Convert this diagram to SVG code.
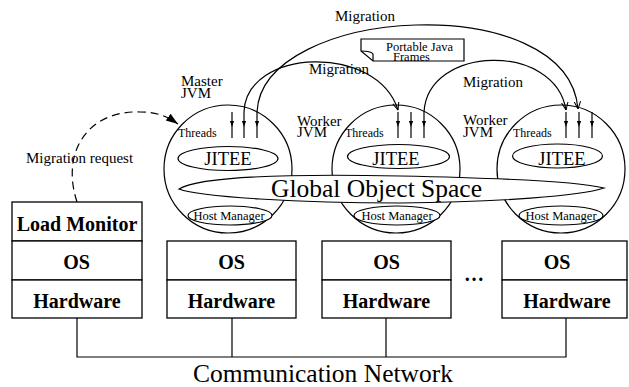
<svg xmlns="http://www.w3.org/2000/svg" width="629" height="387" viewBox="0 0 629 387">
<style>
text{font-family:"Liberation Serif","Times New Roman",serif;fill:#000}
.b{font-weight:bold;font-size:20px;text-anchor:middle}
.lbl{font-size:15px}
.sm{font-size:12px}
.hm{font-size:12.5px;text-anchor:middle}
.jt{font-size:18.5px;text-anchor:middle}
.big{font-size:25.5px}
.ln{fill:none;stroke:#000;stroke-width:1.2}
.box{fill:#fff;stroke:#000;stroke-width:1.3}
.wf{fill:#fff;stroke:#000;stroke-width:1.2}
.th{fill:none;stroke:#000;stroke-width:1.2;marker-mid:url(#tri)}
.arc{fill:none;stroke:#000;stroke-width:1.2;marker-end:url(#open)}
</style>
<defs>
<marker id="open" viewBox="0 0 10 10" refX="9.5" refY="5" markerWidth="8" markerHeight="8" markerUnits="userSpaceOnUse" orient="auto"><path d="M0,1 L9.5,5 L0,9" fill="none" stroke="#000" stroke-width="1.3"/></marker>
<marker id="tri" viewBox="0 0 10 10" refX="5" refY="5" markerWidth="6" markerHeight="6" markerUnits="userSpaceOnUse" orient="auto"><path d="M0,1.5 L10,5 L0,8.5 Z" fill="#000" stroke="none"/></marker>
<marker id="fill" viewBox="0 0 10 10" refX="10" refY="5" markerWidth="12" markerHeight="12" markerUnits="userSpaceOnUse" orient="auto"><path d="M0,1.5 L10,5 L0,8.5 Z" fill="#000" stroke="none"/></marker>
</defs>

<g id="jvm-master">
<circle cx="228" cy="169" r="64" class="ln"/>
<text class="lbl" x="181" y="86">Master</text>
<text class="lbl" x="181" y="98">JVM</text>
<text class="sm" x="178" y="137">Threads</text>
<path class="th" d="M232 112 L232 124 L232 138"/>
<path class="th" d="M244 112 L244 124 L244 138"/>
<path class="th" d="M257 112 L257 124 L257 138"/>
<ellipse cx="228" cy="158.5" rx="50" ry="12" class="ln"/>
<text class="jt" x="228" y="164.5">JITEE</text>
</g>

<g id="jvm-worker-1">
<circle cx="396" cy="169" r="64" class="ln"/>
<text class="lbl" x="297" y="126">Worker</text>
<text class="lbl" x="297" y="137">JVM</text>
<text class="sm" x="345" y="137">Threads</text>
<path class="th" d="M398 112 L398 124 L398 138"/>
<path class="th" d="M411 112 L411 124 L411 138"/>
<path class="th" d="M424 112 L424 124 L424 138"/>
<ellipse cx="398.5" cy="156.5" rx="51" ry="12" class="ln"/>
<text class="jt" x="396" y="164.5">JITEE</text>
</g>

<g id="jvm-worker-2">
<circle cx="561" cy="169" r="64" class="ln"/>
<text class="lbl" x="463" y="125">Worker</text>
<text class="lbl" x="463" y="137">JVM</text>
<text class="sm" x="513" y="137">Threads</text>
<path class="th" d="M566 112 L566 124 L566 138"/>
<path class="th" d="M579 112 L579 124 L579 138"/>
<path class="th" d="M592 112 L592 124 L592 138"/>
<ellipse cx="557.5" cy="156" rx="45" ry="12" class="ln"/>
<text class="jt" x="562" y="164.5">JITEE</text>
</g>

<g id="global-object-space">
<path class="wf" d="M179 189 C200 176 300 174 400 176 C500 178 580 182 604 188 C580 196 500 202 400 203 C300 203 200 197 179 189 Z"/>
<text class="big" x="271" y="197">Global Object Space</text>
</g>

<g id="host-managers">
<ellipse cx="230" cy="215.5" rx="42" ry="9.5" class="wf"/>
<text class="hm" x="229" y="219.5">Host Manager</text>
<ellipse cx="397" cy="215.5" rx="43" ry="9.5" class="wf"/>
<text class="hm" x="397" y="219.5">Host Manager</text>
<ellipse cx="561" cy="215.5" rx="42" ry="9.5" class="wf"/>
<text class="hm" x="561" y="219.5">Host Manager</text>
</g>

<g id="note-frames">
<path class="wf" d="M361 39 L464 39 L464 61 L373 61 L361 51 Z"/>
<path class="ln" d="M361 51 Q371 51 373 54 L373 61"/>
<text class="sm" x="386" y="51" style="font-size:12.5px">Portable Java</text>
<text class="sm" x="393" y="61" style="font-size:12.5px">Frames</text>
</g>

<g id="node-monitor">
<rect class="box" x="12" y="202" width="130" height="39"/>
<rect class="box" x="12" y="241" width="130" height="39"/>
<rect class="box" x="12" y="280" width="130" height="38"/>
<text class="b" x="77" y="231">Load Monitor</text>
<text class="b" x="76.5" y="269">OS</text>
<text class="b" x="77" y="308">Hardware</text>
</g>

<g id="node-host-1">
<rect class="box" x="167" y="241" width="129" height="39"/>
<rect class="box" x="167" y="280" width="129" height="38"/>
<text class="b" x="231.5" y="269">OS</text>
<text class="b" x="231.5" y="308">Hardware</text>
</g>

<g id="node-host-2">
<rect class="box" x="322" y="241" width="129" height="39"/>
<rect class="box" x="322" y="280" width="129" height="38"/>
<text class="b" x="386.5" y="269">OS</text>
<text class="b" x="386.5" y="308">Hardware</text>
</g>

<text class="b" x="474" y="281">…</text>

<g id="node-host-3">
<rect class="box" x="502" y="241" width="125" height="39"/>
<rect class="box" x="502" y="280" width="125" height="38"/>
<text class="b" x="557" y="269">OS</text>
<text class="b" x="567" y="308">Hardware</text>
</g>

<g id="connectors">
<path class="ln" d="M77 318 L77 357 L566 357 L566 318 M232 318 L232 357 M386 318 L386 357"/>
<path class="ln" stroke-dasharray="8 5" marker-end="url(#fill)" d="M77 202 C60 150 90 110 140 112 C158 112 168 117 178 124"/>
<path class="arc" d="M257 112 C262 5 568 -12 578 109"/>
<path class="arc" d="M244 112 C246 48 377 43 398 110"/>
<path class="arc" d="M424 112 C428 45 555 42 566 110"/>
</g>

<text class="lbl" x="26" y="163">Migration request</text>
<text class="lbl" x="335" y="21">Migration</text>
<text class="lbl" x="309" y="74">Migration</text>
<text class="lbl" x="463" y="87">Migration</text>
<text class="big" x="323" y="382" text-anchor="middle">Communication Network</text>
</svg>
